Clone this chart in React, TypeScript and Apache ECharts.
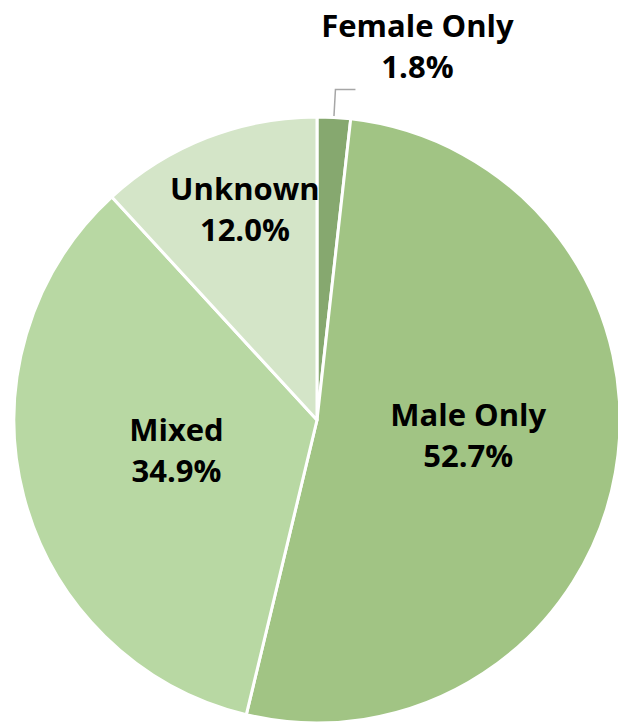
import React, { useEffect, useRef } from "react";
import * as echarts from "echarts";

const categories = ["Female Only", "Male Only", "Mixed", "Unknown"];
const values = [1.8, 52.7, 34.9, 12.0];
const colors = ["#86a86f", "#a1c484", "#b8d8a3", "#d4e5c8"];
const labelShift = [
  { dx: 57, dy: -44 },
  { dx: -1, dy: -12 },
  { dx: 9, dy: -9 },
  { dx: -16, dy: -68 },
];

export default function App() {
  const ref = useRef<HTMLDivElement>(null);
  useEffect(() => {
    document.body.style.margin = "0";
    const chart = echarts.init(ref.current!, null, { renderer: "svg" });
    chart.setOption({
      animation: false,
      backgroundColor: "#ffffff",
      series: [
        {
          type: "pie",
          center: [317, 420],
          radius: 303,
          startAngle: 90,
          clockwise: true,
          avoidLabelOverlap: false,
          data: categories.map((name, i) => ({
            name,
            value: values[i],
            itemStyle: { color: colors[i] },
            label: {
              position: i === 0 ? "outside" : "inside",
            },
            labelLine: { show: i === 0 },
          })),
          itemStyle: { borderColor: "#ffffff", borderWidth: 3 },
          label: {
            show: true,
            formatter: (p: any) => `${p.name}\n${values[p.dataIndex].toFixed(1)}%`,
            fontFamily: "Open Sans",
            fontWeight: "bold",
            fontSize: 31,
            lineHeight: 41,
            color: "#000000",
            align: "center",
          },
          labelLine: {
            show: true,
            length: 28,
            length2: 20,
            lineStyle: { color: "#a6a6a6", width: 1.5 },
          },
          labelLayout: (p: any) => ({
            align: "center",
            dx: labelShift[p.dataIndex].dx,
            dy: labelShift[p.dataIndex].dy,
          }),
        },
      ],
    });
    return () => chart.dispose();
  }, []);
  return (
    <div
      ref={ref}
      style={{ position: "absolute", left: 0, top: 0, width: 618, height: 726 }}
    />
  );
}
